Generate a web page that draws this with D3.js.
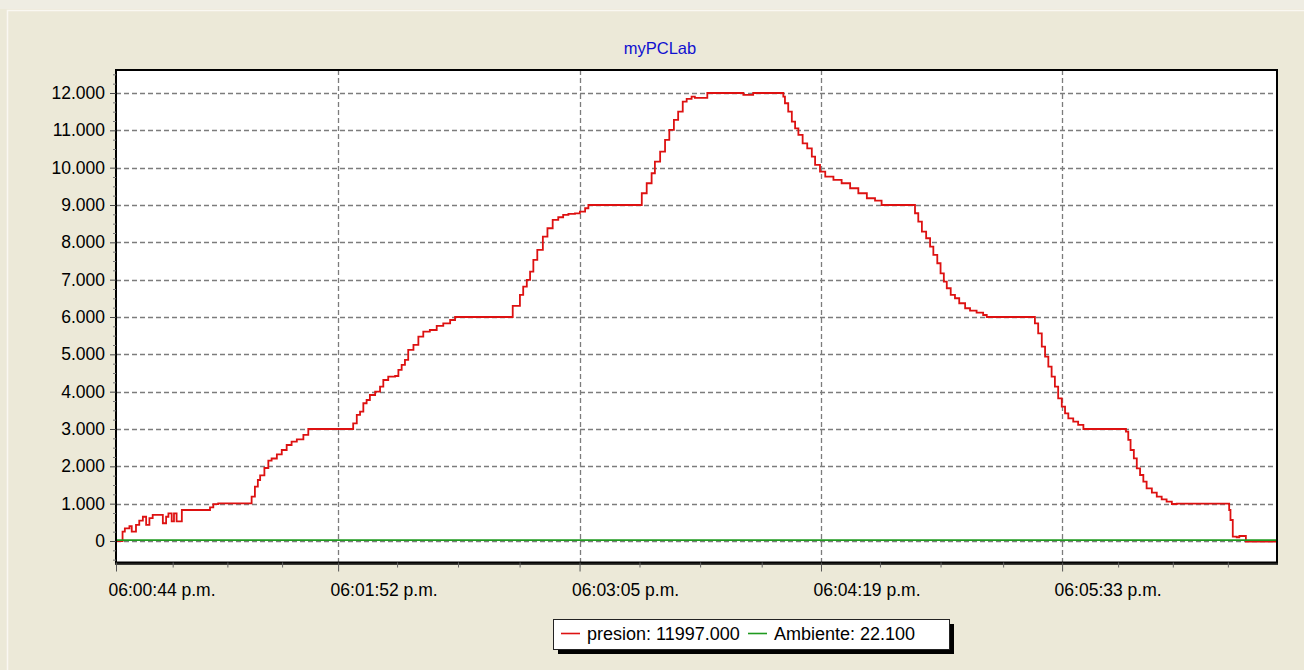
<!DOCTYPE html>
<html>
<head>
<meta charset="utf-8">
<script src="https://cdn.jsdelivr.net/npm/d3@7"></script>
<style>
  body { margin: 0; background: #ECE9D8; }
  svg text { font-family: "Liberation Sans", Arial, sans-serif; }
</style>
</head>
<body>
<div id="chart"></div>
<script>
// ---- data ----
// seconds after 06:00:44.2 p.m. where the "presion" step changes, and its value
var presionSec = [0, 2.0, 2.7, 4.1, 4.8, 6.1, 7.1, 8.2, 9.2, 10.2, 11.2, 14.3, 15.3, 16.0, 17.0, 17.7, 18.5, 20.1,
  28.7, 29.7, 31.2, 41.4, 42.4, 43.3, 44.0, 45.3, 46.5, 47.5, 49.1, 50.6, 52.1, 53.6, 55.2, 57.2, 58.7,
  72.4, 73.5, 74.5, 75.5, 76.5, 77.5, 79.1, 80.6, 81.6, 83.1, 85.2, 86.2, 87.2, 88.2, 89.2, 90.8, 92.3,
  93.8, 95.8, 97.9, 99.9, 102.0, 103.5,
  121.1, 123.3, 124.3, 125.4, 126.4, 127.4, 128.6, 130.3, 131.7, 133.3, 135.0, 136.5, 138.1, 140.1,
  141.6, 143.2, 144.2,
  160.5, 162.0, 163.5, 164.5, 166.1, 167.6, 168.9, 170.3, 171.6, 173.0, 174.2, 175.7, 176.7, 180.5,
  191.5, 194.5,
  203.7, 204.2, 205.2, 206.3, 207.3, 208.3, 209.6, 211.0, 212.4, 213.4, 214.9, 216.5, 219.0, 221.5,
  224.1, 226.6, 229.2, 231.7, 233.7,
  243.9, 244.9, 246.0, 247.3, 248.5, 249.5, 250.7, 251.7, 252.7, 253.6, 254.8, 256.1, 257.4, 259.2,
  260.7, 262.7, 264.7, 265.8,
  280.5, 281.5, 282.6, 283.6, 284.6, 285.6, 286.6, 287.6, 288.7, 289.7, 290.7, 292.2, 293.7, 295.3,
  308.3, 309.0, 309.7, 310.7, 311.6, 312.6, 313.6, 314.6, 316.2, 317.7, 319.2, 320.7, 322.3, 323.8,
  339.8, 340.2, 340.9, 342.1, 342.9, 344.9, 354.4];
var presionVal = [0, 250, 340, 400, 250, 430, 545, 650, 430, 610, 700, 475, 650, 740, 525, 740, 525, 830,
  900, 990, 1010, 1187, 1455, 1634, 1760, 1955, 2151, 2210, 2322, 2438, 2572, 2660, 2720, 2840, 3000,
  3153, 3376, 3465, 3689, 3777, 3911, 4000, 4134, 4313, 4402, 4420, 4581, 4715, 4849, 5117, 5251, 5473,
  5607, 5652, 5760, 5831, 5920, 6000,
  6296, 6590, 6813, 6992, 7215, 7528, 7796, 8152, 8377, 8600, 8672, 8733, 8760, 8777,
  8822, 8913, 9000,
  9315, 9583, 9850, 10161, 10429, 10743, 11010, 11278, 11502, 11770, 11841, 11903, 11870, 12000,
  11950, 12000,
  11903, 11725, 11502, 11234, 11055, 10876, 10653, 10519, 10296, 10073, 9894, 9760, 9671, 9583,
  9449, 9315, 9181, 9117, 9000,
  8779, 8554, 8286, 8109, 7885, 7662, 7439, 7171, 6948, 6770, 6590, 6502, 6368, 6234,
  6170, 6116, 6054, 6000,
  5830, 5563, 5205, 4937, 4670, 4402, 4134, 3822, 3600, 3420, 3286, 3197, 3108, 3000,
  2928, 2706, 2438, 2215, 1947, 1768, 1590, 1411, 1294, 1187, 1116, 1053, 991, 1000,
  830, 563, 116, 100, 134, -15, -15];

var ambienteSec = [0, 354.4];
var ambienteVal = [22.1, 22.1];

// x axis: major ticks with their labels, and the small ticks between them
var xMajorSec = [0, 67.8, 141.5, 215.2, 288.8];
var xMajorLabels = ["06:00:44 p.m.", "06:01:52 p.m.", "06:03:05 p.m.", "06:04:19 p.m.", "06:05:33 p.m."];
var xMinorSec = [17.3, 34.0, 50.7, 85.8, 104.4, 123.2, 159.8, 178.3, 197.1, 233.2, 251.7, 270.8, 305.9, 322.6, 339.4];

var yMajor = d3.range(0, 12001, 1000);
var yMinor = d3.range(-500, 12501, 250).filter(function(v) { return v % 1000 !== 0; });

var seriesNames = ["presion", "Ambiente"];
var legendValues = ["11997.000", "22.100"];
var seriesColors = ["#dd1111", "#1f9a1f"];
var chartTitle = "myPCLab";

// ---- layout ----
var svgWidth = 1304;
var svgHeight = 670;
var margin = { top: 70, right: 27, bottom: 107.5, left: 116 };
var width = svgWidth - margin.left - margin.right;
var height = svgHeight - margin.top - margin.bottom;

var t0 = new Date(2000, 0, 1, 18, 0, 44, 200);
function toDate(s) { return new Date(t0.getTime() + s * 1000); }

var svg = d3.select("#chart")
  .append("svg")
  .attr("width", svgWidth)
  .attr("height", svgHeight);

// panel background with its light edge
svg.append("rect")
  .attr("width", svgWidth).attr("height", svgHeight)
  .attr("fill", "#ECE9D8");
svg.append("rect")
  .attr("width", svgWidth).attr("height", 9)
  .attr("fill", "#EFEDE3");
svg.append("path")
  .attr("d", "M7.5," + svgHeight + "V10.5H" + svgWidth)
  .attr("fill", "none")
  .attr("stroke", "#FAF8F2")
  .attr("stroke-width", 1.5);

var chartGroup = svg.append("g")
  .attr("transform", `translate(${margin.left}, ${margin.top})`);

// scales
var xScale = d3.scaleTime()
  .domain([toDate(0), toDate(354.4)])
  .range([0, width]);

var yScale = d3.scaleLinear()
  .domain([-576, 12616])
  .range([height, 0]);

var fmt = d3.formatLocale({ decimal: ",", thousands: ".", grouping: [3], currency: ["", ""] }).format(",");

// plot area
chartGroup.append("rect")
  .attr("width", width).attr("height", height)
  .attr("fill", "#ffffff");

// grid
chartGroup.append("g")
  .selectAll("line")
  .data(yMajor)
  .enter()
  .append("line")
  .attr("x1", 0).attr("x2", width)
  .attr("y1", d => Math.round(yScale(d)) + 0.5)
  .attr("y2", d => Math.round(yScale(d)) + 0.5)
  .attr("stroke", "#7c7c7c")
  .attr("stroke-width", 1.3)
  .attr("stroke-dasharray", "5,3");

chartGroup.append("g")
  .selectAll("line")
  .data(xMajorSec.slice(1))
  .enter()
  .append("line")
  .attr("x1", d => Math.round(xScale(toDate(d))) + 0.5)
  .attr("x2", d => Math.round(xScale(toDate(d))) + 0.5)
  .attr("y1", 0).attr("y2", height)
  .attr("stroke", "#7c7c7c")
  .attr("stroke-width", 1.3)
  .attr("stroke-dasharray", "5,3");

// series
chartGroup.append("clipPath").attr("id", "plotClip")
  .append("rect").attr("width", width).attr("height", height);

var line = d3.line()
  .x(d => xScale(toDate(d[0])))
  .y(d => yScale(d[1]))
  .curve(d3.curveStepAfter);

chartGroup.append("path")
  .datum(d3.zip(presionSec, presionVal))
  .attr("clip-path", "url(#plotClip)")
  .attr("d", line)
  .attr("fill", "none")
  .attr("stroke", seriesColors[0])
  .attr("stroke-width", 1.8);

chartGroup.append("path")
  .datum(d3.zip(ambienteSec, ambienteVal))
  .attr("clip-path", "url(#plotClip)")
  .attr("d", line)
  .attr("fill", "none")
  .attr("stroke", seriesColors[1])
  .attr("stroke-width", 1.8);

// frame
chartGroup.append("rect")
  .attr("width", width).attr("height", height)
  .attr("fill", "none")
  .attr("stroke", "#000")
  .attr("stroke-width", 2);
chartGroup.append("line")
  .attr("x1", -1).attr("x2", width + 1)
  .attr("y1", height + 1.5).attr("y2", height + 1.5)
  .attr("stroke", "#000")
  .attr("stroke-width", 1.5);

// x axis
var bottomAxis = d3.axisBottom(xScale)
  .tickValues(xMajorSec.map(toDate))
  .tickSize(9)
  .tickPadding(12)
  .tickFormat((d, i) => xMajorLabels[i]);

var xAxisG = chartGroup.append("g")
  .attr("transform", `translate(0, ${height})`)
  .call(bottomAxis);
xAxisG.select(".domain").remove();
xAxisG.selectAll("line").attr("stroke", "#555");
xAxisG.selectAll("text")
  .attr("text-anchor", "start")
  .attr("dx", -8)
  .attr("font-size", "17.5px")
  .attr("font-family", "Liberation Sans, Arial, sans-serif")
  .attr("fill", "#000");

var minorX = chartGroup.append("g")
  .attr("transform", `translate(0, ${height})`)
  .call(d3.axisBottom(xScale).tickValues(xMinorSec.map(toDate)).tickSize(5).tickFormat(""));
minorX.select(".domain").remove();
minorX.selectAll("line").attr("stroke", "#666");

// y axis
var leftAxis = d3.axisLeft(yScale)
  .tickValues(yMajor)
  .tickSize(6)
  .tickPadding(5)
  .tickFormat(fmt);

var yAxisG = chartGroup.append("g").call(leftAxis);
yAxisG.select(".domain").remove();
yAxisG.selectAll("line").attr("stroke", "#444");
yAxisG.selectAll("text")
  .attr("font-size", "17.5px")
  .attr("font-family", "Liberation Sans, Arial, sans-serif")
  .attr("fill", "#000");

var minorY = chartGroup.append("g")
  .call(d3.axisLeft(yScale).tickValues(yMinor).tickSize(3).tickFormat(""));
minorY.select(".domain").remove();
minorY.selectAll("line").attr("stroke", "#777");

// title
svg.append("text")
  .attr("x", 660)
  .attr("y", 54)
  .attr("text-anchor", "middle")
  .attr("font-size", "16.5px")
  .attr("fill", "#1010d0")
  .text(chartTitle);

// legend
var legend = svg.append("g").attr("transform", "translate(553, 619)");
legend.append("rect")
  .attr("x", 5).attr("y", 5)
  .attr("width", 396).attr("height", 30)
  .attr("fill", "#000");
legend.append("rect")
  .attr("x", 0.5).attr("y", 0.5)
  .attr("width", 396).attr("height", 30)
  .attr("fill", "#fff")
  .attr("stroke", "#222");

var legendX = [8, 195];
seriesNames.forEach(function(name, i) {
  legend.append("line")
    .attr("x1", legendX[i]).attr("x2", legendX[i] + 19)
    .attr("y1", 14.5).attr("y2", 14.5)
    .attr("stroke", seriesColors[i])
    .attr("stroke-width", 1.6);
  legend.append("text")
    .attr("x", legendX[i] + 26)
    .attr("y", 20.5)
    .attr("font-size", "18px")
    .attr("fill", "#000")
    .text(name + ": " + legendValues[i]);
});
</script>
</body>
</html>
